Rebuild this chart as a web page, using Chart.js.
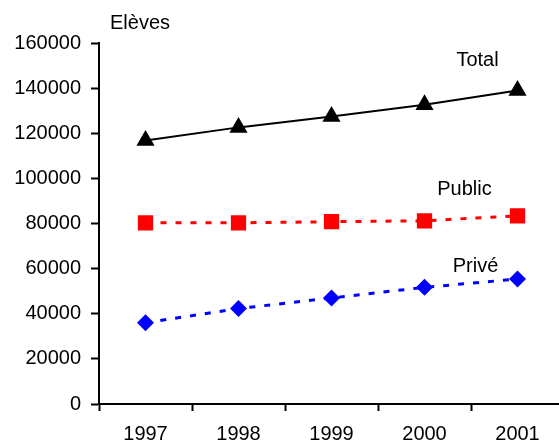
<!DOCTYPE html>
<html>
<head>
<meta charset="utf-8">
<script src="https://cdn.jsdelivr.net/npm/chart.js@4/dist/chart.umd.min.js"></script>
<style>
  html, body { margin: 0; padding: 0; background: #fff; overflow: hidden; }
  #wrap { position: relative; width: 580px; min-width: 580px; height: 443px; }
  #c { width: 580px; height: 443px; }
</style>
</head>
<body>
<div id="wrap"><canvas id="c" width="580" height="443"></canvas></div>
<script>
// Nombre d'élèves par année
const years = ['1997', '1998', '1999', '2000', '2001'];
const total = [116800, 122600, 127400, 132600, 138900];
const publicSector = [80300, 80300, 80800, 81200, 83400];
const privateSector = [36000, 42300, 47000, 51700, 55400];
const yTicks = [0, 20000, 40000, 60000, 80000, 100000, 120000, 140000, 160000];

const FONT = '"Liberation Sans", Arial, sans-serif';

// Series names and axis title written next to the lines
const seriesLabels = {
  id: 'seriesLabels',
  afterDatasetsDraw(chart) {
    const { ctx, scales: { x, y } } = chart;
    ctx.save();
    ctx.fillStyle = '#000';
    ctx.font = '20px ' + FONT;
    ctx.textAlign = 'center';
    ctx.textBaseline = 'middle';
    const last = years.length - 1;
    const xl = x.getPixelForValue(last);
    ctx.fillText('Total', xl - 40, y.getPixelForValue(total[last]) - 30);
    ctx.fillText('Public', xl - 53, y.getPixelForValue(publicSector[last]) - 26);
    ctx.fillText('Privé', xl - 42, y.getPixelForValue(privateSector[last]) - 13);
    ctx.textAlign = 'left';
    ctx.textBaseline = 'alphabetic';
    ctx.fillText('Elèves', x.left + 11, 29);
    ctx.restore();
  }
};

new Chart(document.getElementById('c'), {
  type: 'line',
  data: {
    labels: years,
    datasets: [
      {
        label: 'Total',
        data: total,
        borderColor: '#000',
        backgroundColor: '#000',
        borderWidth: 2,
        pointStyle: 'triangle',
        pointRadius: 10.5,
        pointHoverRadius: 10.5,
        pointBorderWidth: 0,
        tension: 0
      },
      {
        label: 'Public',
        data: publicSector,
        borderColor: '#ff0000',
        backgroundColor: '#ff0000',
        borderWidth: 3,
        borderDash: [6, 9],
        pointStyle: 'rect',
        pointRadius: 10.8,
        pointHoverRadius: 10.8,
        pointBorderWidth: 0,
        tension: 0
      },
      {
        label: 'Privé',
        data: privateSector,
        borderColor: '#0000ff',
        backgroundColor: '#0000ff',
        borderWidth: 3,
        borderDash: [6, 9],
        pointStyle: 'rectRot',
        pointRadius: 8.5,
        pointHoverRadius: 8.5,
        pointBorderWidth: 0,
        tension: 0
      }
    ]
  },
  options: {
    responsive: false,
    animation: false,
    events: [],
    layout: { padding: { top: 43, right: 16, bottom: 0, left: 0 } },
    plugins: { legend: { display: false }, tooltip: { enabled: false } },
    scales: {
      x: {
        type: 'category',
        offset: true,
        grid: {
          offset: true,
          drawOnChartArea: false,
          drawTicks: true,
          tickLength: 7,
          tickWidth: 2,
          tickColor: '#000'
        },
        border: { display: true, color: '#000', width: 2 },
        ticks: { color: '#000', font: { family: FONT, size: 20 }, padding: 11, maxRotation: 0 },
        afterFit(scale) {
          scale.height = 39;
          scale.paddingLeft = 0;
          scale.paddingRight = 0;
        }
      },
      y: {
        min: 0,
        max: 160000,
        afterBuildTicks(scale) { scale.ticks = yTicks.map(v => ({ value: v })); },
        grid: {
          drawOnChartArea: false,
          drawTicks: true,
          tickLength: 8,
          tickWidth: 2,
          tickColor: '#000'
        },
        border: { display: true, color: '#000', width: 2 },
        ticks: {
          color: '#000',
          font: { family: FONT, size: 20 },
          padding: 10,
          callback: v => String(v)
        },
        afterFit(scale) {
          scale.width = 99;
          scale.paddingTop = 0;
          scale.paddingBottom = 0;
        }
      }
    }
  },
  plugins: [seriesLabels]
});
</script>
</body>
</html>
